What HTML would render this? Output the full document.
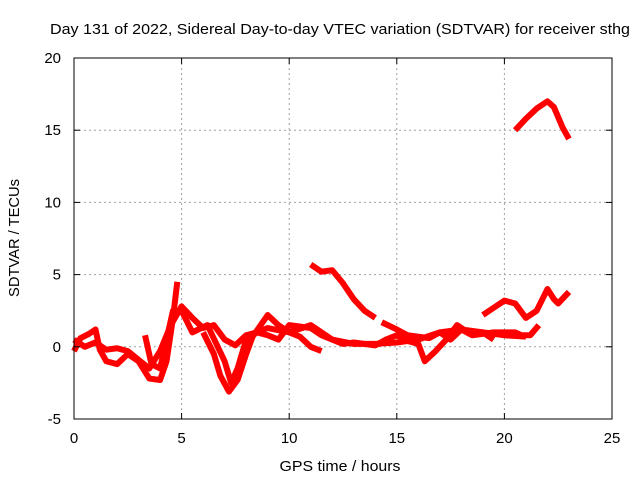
<!DOCTYPE html>
<html><head><meta charset="utf-8"><style>
body{margin:0;background:#fff;}
svg{display:block;font-family:"Liberation Sans",sans-serif;}
</style></head><body>
<svg id="chart" width="640" height="480">
<text x="340" y="34" text-anchor="middle" font-size="15" textLength="580" lengthAdjust="spacingAndGlyphs" fill="#000">Day 131 of 2022, Sidereal Day-to-day VTEC variation (SDTVAR) for receiver sthg</text>
<g id="grid"></g>
<g id="series"></g>
<rect x="74" y="58" width="538" height="361" fill="none" stroke="#000" stroke-width="1"/>
<g id="ticks"></g>
<text x="340" y="471" text-anchor="middle" font-size="15" textLength="121" lengthAdjust="spacingAndGlyphs">GPS time / hours</text>
<text transform="translate(19,238) rotate(-90)" text-anchor="middle" font-size="15" textLength="118" lengthAdjust="spacingAndGlyphs">SDTVAR / TECUs</text>
</svg>
<script>
const xTicks=[0,5,10,15,20,25];
const yTicks=[-5,0,5,10,15,20];
const seriesA=[[20.5,15],[21,15.8],[21.5,16.5],[22,17],[22.3,16.6],[22.7,15.2],[23,14.4]];
const seriesB=[[11,5.7],[11.5,5.2],[12,5.3],[12.5,4.4],[13,3.3],[13.5,2.5],[14,2.0]];
const seriesC=[[19,2.2],[19.5,2.7],[20,3.2],[20.5,3.0],[21,2.0],[21.5,2.5],[22,4.0],[22.3,3.3],[22.5,3.0],[23,3.8]];
const seriesD=[[0,-0.3],[0.3,0.6],[0.7,0.9],[1,1.2],[1.2,-0.2],[1.5,-1.0],[2,-1.2],[2.5,-0.5],[3,-1.0],[3.5,-2.2],[4,-2.3],[4.3,-1],[4.6,2],[4.8,4.5]];
const seriesE=[[0,0.5],[0.5,0],[1,0.3],[1.5,-0.2],[2,-0.1],[2.5,-0.3],[3,-0.9],[3.5,-1.5],[4,-0.3],[4.5,1.5],[5,2.8],[5.5,2.0],[6,1.3],[6.5,1.5],[7,0.5],[7.5,0.1],[8,0.8],[8.5,1.0],[9,1.3],[10,1.0],[11,1.5],[12,0.5],[13,0.2],[14,0.2],[15,0.3],[16,0.5],[17,1.0],[18,1.2],[19,1.0],[20,0.8],[21,0.7]];
const seriesF=[[3.3,0.8],[3.6,-1.2],[4,-1.5],[4.3,0.5],[4.6,2.5],[5,2.5],[5.5,1],[6.2,1.5],[7,-1],[7.3,-2.5],[7.6,-1.5],[8,0.5],[8.5,1],[9,0.8],[9.5,0.5],[10,1.5],[11,1.3],[11.5,0.8],[12,0.5],[12.5,0.2],[13,0.3],[14,0.1],[14.5,0.5],[15,0.8],[15.5,0.4],[16,0.2],[16.3,-1.0],[16.8,-0.3],[17.3,0.5],[17.8,1.5],[18.3,1.0],[19,1.0],[19.5,0.5]];
const seriesG=[[6,1],[6.5,-0.5],[6.8,-2],[7.2,-3.1],[7.6,-2.3],[8,-0.5],[8.3,0.7],[9,2.2],[9.5,1.5],[10,1.0],[10.5,0.7],[11,0],[11.5,-0.3]];
const seriesH=[[14.3,1.7],[15,1.2],[15.5,0.8],[16,0.7],[16.5,0.6],[17,1.0],[17.5,0.5],[18,1.2],[18.5,0.8],[19.5,1.0],[20.5,1.0],[20.8,0.8],[21.2,0.8],[21.6,1.5]];
const allSeries=[seriesA,seriesB,seriesC,seriesD,seriesE,seriesF,seriesG,seriesH];
const NS="http://www.w3.org/2000/svg";
const L=74,R=612,T=58,B=419;
function sx(v){return L+(v-0)/25*(R-L);}
function sy(v){return B-(v+5)/25*(B-T);}
const grid=document.getElementById('grid'),ticks=document.getElementById('ticks'),ser=document.getElementById('series');
function mk(tag,attrs,parent){const e=document.createElementNS(NS,tag);for(const k in attrs)e.setAttribute(k,attrs[k]);parent.appendChild(e);return e;}
xTicks.forEach(v=>{
  const x=sx(v);
  if(v>0&&v<25){const g=mk('line',{x1:x,x2:x,y1:T,y2:B,stroke:'#a0a0a0','stroke-dasharray':'2,3'},grid);
  
  }
  mk('line',{x1:x,x2:x,y1:B,y2:B-6,stroke:'#000'},ticks);
  mk('line',{x1:x,x2:x,y1:T,y2:T+6,stroke:'#000'},ticks);
  const t=mk('text',{x:x,y:B+24,'text-anchor':'middle','font-size':15},ticks);t.textContent=v;
  
  
});
yTicks.forEach(v=>{
  const y=sy(v);
  if(v>-5&&v<20){const g=mk('line',{x1:L,x2:R,y1:y,y2:y,stroke:'#a0a0a0','stroke-dasharray':'2,3'},grid);
  
  }
  mk('line',{x1:L,x2:L+6,y1:y,y2:y,stroke:'#000'},ticks);
  mk('line',{x1:R,x2:R-6,y1:y,y2:y,stroke:'#000'},ticks);
  const t=mk('text',{x:L-13,y:y+5,'text-anchor':'end','font-size':15},ticks);t.textContent=v;
  
  
});
allSeries.forEach((s,i)=>{
  const p=mk('polyline',{points:s.map(d=>sx(d[0])+','+sy(d[1])).join(' '),fill:'none',stroke:'#ff0000','stroke-width':6,'stroke-linejoin':'round','stroke-linecap':'butt'},ser);
  
  
});
</script>
</body></html>
